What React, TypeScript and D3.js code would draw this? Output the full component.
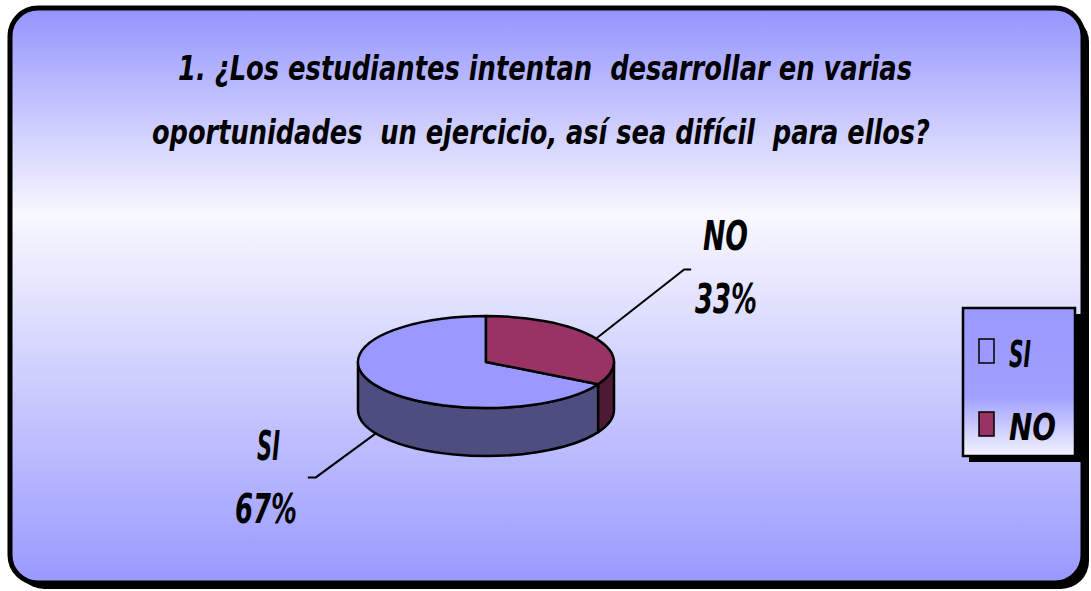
import React from "react";
import * as d3 from "d3";

const categories = ["SI", "NO"];
const values = [67, 33];
const titleLines = [
  "1. ¿Los estudiantes intentan  desarrollar en varias",
  "oportunidades  un ejercicio, así sea difícil  para ellos?",
];

const topColors = ["#9999ff", "#993366"];
const sideColors = ["#4d4d80", "#4d1a33"];
const legendFill = ["#9999ff", "#993366"];

const FONT = "'DejaVu Sans Condensed', 'Liberation Sans', sans-serif";

// layout for title lines: [x, baseline, width]
const titleLayout = [
  [178, 80, 734],
  [152, 144, 778],
];

function App() {
  const W = 1091;
  const H = 591;
  const cx = 486;
  const cy = 362;
  const rx = 128;
  const ry = 46;
  const depth = 48;

  const total = d3.sum(values);
  const start = (2 * Math.PI * values[1]) / total;
  const pie = d3
    .pie<number>()
    .sort(null)
    .startAngle(start)
    .endAngle(start + 2 * Math.PI);
  const slices = pie(values);

  const arc = d3.arc<d3.PieArcDatum<number>>().innerRadius(0).outerRadius(1);

  const pt = (a: number, dy = 0): [number, number] => [
    cx + rx * Math.sin(a),
    cy - ry * Math.cos(a) + dy,
  ];

  // front wall pieces (visible half: pi/2 .. 3pi/2)
  const walls: { d: string; i: number }[] = [];
  slices.forEach((s, i) => {
    [0, 2 * Math.PI].forEach((off) => {
      const a = Math.max(s.startAngle, Math.PI / 2 + off);
      const b = Math.min(s.endAngle, (3 * Math.PI) / 2 + off);
      if (b > a) {
        const p0 = pt(a);
        const p1 = pt(b);
        const p2 = pt(b, depth);
        const p3 = pt(a, depth);
        const d =
          `M${p0[0]},${p0[1]} A${rx},${ry} 0 0 1 ${p1[0]},${p1[1]} ` +
          `L${p2[0]},${p2[1]} A${rx},${ry} 0 0 0 ${p3[0]},${p3[1]} Z`;
        walls.push({ d, i });
      }
    });
  });

  // leader lines + labels (x start, baselines, widths)
  const labelCfg = [
    { dx: -60, dy: 44, hx: -8, onSide: true, n: [257, 460, 23], p: [235, 523, 62] },
    { dx: 88, dy: -69, hx: 7, onSide: false, n: [703, 250, 45], p: [695, 313, 62] },
  ];

  const bold = { fontWeight: "bold", fontStyle: "italic" } as const;

  return (
    <svg
      width={W}
      height={H}
      style={{ position: "absolute", left: 0, top: 0 }}
      fontFamily={FONT}
    >
      <defs>
        <linearGradient id="bg" x1="0" y1="0" x2="0" y2="1">
          <stop offset="0" stopColor="#9494ff" />
          <stop offset="0.36" stopColor="#f8f8ff" />
          <stop offset="1" stopColor="#9999ff" />
        </linearGradient>
        <linearGradient id="lg" x1="0" y1="0" x2="0" y2="1">
          <stop offset="0" stopColor="#9999ff" />
          <stop offset="0.6" stopColor="#a0a0ff" />
          <stop offset="1" stopColor="#f4f4ff" />
        </linearGradient>
      </defs>
      <rect x={0} y={0} width={W} height={H} fill="#ffffff" />
      {/* outer frame with shadow */}
      <rect x={16} y={14} width={1073} height={575} rx={28} fill="#000" />
      <rect
        x={10}
        y={8}
        width={1073}
        height={575}
        rx={28}
        fill="url(#bg)"
        stroke="#000"
        strokeWidth={5}
      />

      {/* title */}
      {titleLines.map((t, i) => (
        <text
          key={i}
          x={titleLayout[i][0]}
          y={titleLayout[i][1]}
          textLength={titleLayout[i][2]}
          lengthAdjust="spacingAndGlyphs"
          fontSize={34}
          {...bold}
          fill="#000"
          style={{ whiteSpace: "pre" }}
        >
          {t}
        </text>
      ))}

      {/* pie walls */}
      {walls.map((w, k) => (
        <path key={k} d={w.d} fill={sideColors[w.i]} stroke="#000" strokeWidth={2.5} strokeLinejoin="round" />
      ))}
      {/* pie tops */}
      <g transform={`translate(${cx},${cy}) scale(${rx},${ry})`}>
        {slices.map((s, i) => (
          <path
            key={i}
            d={arc(s) || ""}
            fill={topColors[i]}
            stroke="#000"
            strokeWidth={2.5}
            strokeLinejoin="round"
            vectorEffect="non-scaling-stroke"
          />
        ))}
      </g>

      {/* leaders and labels */}
      {slices.map((s, i) => {
        const c = labelCfg[i];
        const mid = (s.startAngle + s.endAngle) / 2;
        const p = pt(mid, c.onSide ? depth : 0);
        const q: [number, number] = [p[0] + c.dx, p[1] + c.dy];
        const r: [number, number] = [q[0] + c.hx, q[1]];
        const pct = Math.round((values[i] / total) * 100);
        return (
          <g key={i}>
            <polyline
              points={[p, q, r].map((v) => v.join(",")).join(" ")}
              fill="none"
              stroke="#000"
              strokeWidth={2}
            />
            <text x={c.n[0]} y={c.n[1]} textLength={c.n[2]} lengthAdjust="spacingAndGlyphs" fontSize={40} {...bold}>
              {categories[i]}
            </text>
            <text x={c.p[0]} y={c.p[1]} textLength={c.p[2]} lengthAdjust="spacingAndGlyphs" fontSize={40} {...bold}>
              {pct}%
            </text>
          </g>
        );
      })}

      {/* legend */}
      <rect x={969} y={314} width={112} height={148} fill="#000" />
      <rect x={963} y={308} width={112} height={148} fill="url(#lg)" stroke="#000" strokeWidth={2.5} />
      {categories.map((c, i) => (
        <g key={c} transform={`translate(979,${339 + i * 73})`}>
          <rect x={0} y={0} width={15} height={24} fill={legendFill[i]} stroke="#000" strokeWidth={1.5} />
          <text
            x={30}
            y={28}
            fontSize={38}
            textLength={i === 0 ? 22 : 47}
            lengthAdjust="spacingAndGlyphs"
            {...bold}
          >
            {c}
          </text>
        </g>
      ))}
    </svg>
  );
}

export default App;
